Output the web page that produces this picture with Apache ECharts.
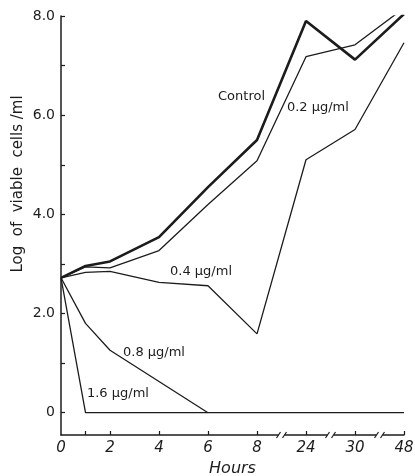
<!DOCTYPE html>
<html>
<head>
<meta charset="utf-8">
<script src="https://cdn.jsdelivr.net/npm/echarts@6/dist/echarts.min.js"></script>
<style>
  html, body { margin: 0; padding: 0; background: #fff; }
  #chart { width: 415px; height: 476px; }
</style>
</head>
<body>
<div id="chart"></div>
<script>
// sampling times (hours) and log of viable cells / ml
const hours = [0, 1, 2, 4, 6, 8, 24, 30, 48];
const control = [2.72, 2.96, 3.05, 3.54, 4.55, 5.5, 7.9, 7.12, 8.04];
const dose02 = [2.72, 2.94, 2.92, 3.27, 4.2, 5.08, 7.18, 7.42, 8.16];
const dose04 = [2.72, 2.83, 2.85, 2.63, 2.56, 1.59, 5.1, 5.71, 7.46];
const hours08 = [0, 1, 2, 6];
const dose08 = [2.72, 1.8, 1.26, 0];
const dose16 = [2.72, 0, 0, 0, 0, 0, 0, 0, 0];

// x axis is broken after 8 h: tick labels sit at equal steps
const hourLabels = [0, 2, 4, 6, 8, 24, 30, 48];
const yLabels = [0, 2, 4, 6, 8];

// hours -> position on the broken axis (one step per label)
const pos = (h) => {
    for (let i = 1; i < hourLabels.length; i++) {
        const a = hourLabels[i - 1], b = hourLabels[i];
        if (h <= b) return 2 * (i - 1) + 2 * (h - a) / (b - a);
    }
    return 2 * (hourLabels.length - 1);
};
const pts = (xs, ys) => xs.map((h, i) => [pos(h), ys[i]]);

const ink = '#1c1c1c';
const font = 'DejaVu Sans';

const chart = echarts.init(document.getElementById('chart'));

const line = (name, data, width) => ({
    name: name,
    type: 'line',
    data: data,
    symbol: 'none',
    silent: true,
    lineStyle: { color: ink, width: width },
    z: 3
});

chart.setOption({
    animation: false,
    grid: { left: 61, right: 11, top: 16, bottom: 41, outerBoundsMode: 'none' },
    xAxis: {
        type: 'value',
        min: 0,
        max: 14,
        name: 'Hours',
        nameLocation: 'middle',
        nameGap: 25,
        nameTextStyle: { fontFamily: font, fontSize: 16, fontStyle: 'italic', color: ink },
        splitLine: { show: false },
        axisLine: { onZero: false, lineStyle: { color: ink, width: 1.5 } },
        axisTick: {
            inside: true, length: 4,
            lineStyle: { color: ink, width: 1.2 },
            customValues: [1, 2, 4, 6, 8, 10, 12, 14]
        },
        axisLabel: {
            customValues: hourLabels.map(pos),
            formatter: (v) => String(hourLabels[Math.round(v / 2)]),
            fontFamily: font, fontSize: 15, fontStyle: 'italic', color: ink,
            margin: 6
        }
    },
    yAxis: {
        type: 'value',
        min: -0.45,
        max: 8,
        splitLine: { show: false },
        axisLine: { show: true, onZero: false, lineStyle: { color: ink, width: 1.5 } },
        axisTick: {
            inside: true, length: 4,
            lineStyle: { color: ink, width: 1.2 },
            customValues: [0, 1, 2, 3, 4, 5, 6, 7, 8]
        },
        axisLabel: {
            customValues: yLabels,
            formatter: (v) => v === 0 ? '0' : v.toFixed(1),
            fontFamily: font, fontSize: 14, color: ink,
            margin: 6
        }
    },
    series: [
        line('Control', pts(hours, control), 2.6),
        line('0.2 µg/ml', pts(hours, dose02), 1.3),
        line('0.4 µg/ml', pts(hours, dose04), 1.3),
        line('0.8 µg/ml', pts(hours08, dose08), 1.3),
        line('1.6 µg/ml', pts(hours, dose16), 1.3)
    ]
});

// curve labels, placed in axis coordinates
const notes = [
    ['Control', 6.41, 6.37],
    ['0.2 µg/ml', 9.22, 6.15],
    ['0.4 µg/ml', 4.45, 2.84],
    ['0.8 µg/ml', 2.53, 1.22],
    ['1.6 µg/ml', 1.06, 0.38]
];

const graphics = notes.map(([text, x, y]) => {
    const p = chart.convertToPixel({ gridIndex: 0 }, [x, y]);
    return {
        type: 'text', x: p[0], y: p[1], z: 10,
        style: {
            text: text, fill: ink, font: '13px "' + font + '"',
            textAlign: 'left', textVerticalAlign: 'middle'
        }
    };
});

// axis break marks between 8-24, 24-30, 30-48
[9, 11, 13].forEach((b) => {
    const p = chart.convertToPixel({ gridIndex: 0 }, [b, -0.45]);
    graphics.push({
        type: 'rect', z: 10,
        shape: { x: p[0] - 3, y: p[1] - 2, width: 6, height: 4 },
        style: { fill: '#fff' }
    });
    [-3, 3].forEach((d) => {
        graphics.push({
            type: 'line', z: 11,
            shape: { x1: p[0] + d - 2, y1: p[1] + 3, x2: p[0] + d + 2, y2: p[1] - 3 },
            style: { stroke: ink, lineWidth: 1.2 }
        });
    });
});

graphics.push({
    type: 'text', x: 18, y: 184, rotation: Math.PI / 2, z: 10,
    style: {
        text: 'Log  of  viable  cells /ml', fill: ink,
        font: '15px "' + font + '"',
        textAlign: 'center', textVerticalAlign: 'middle'
    }
});

chart.setOption({ graphic: graphics });
</script>
</body>
</html>
